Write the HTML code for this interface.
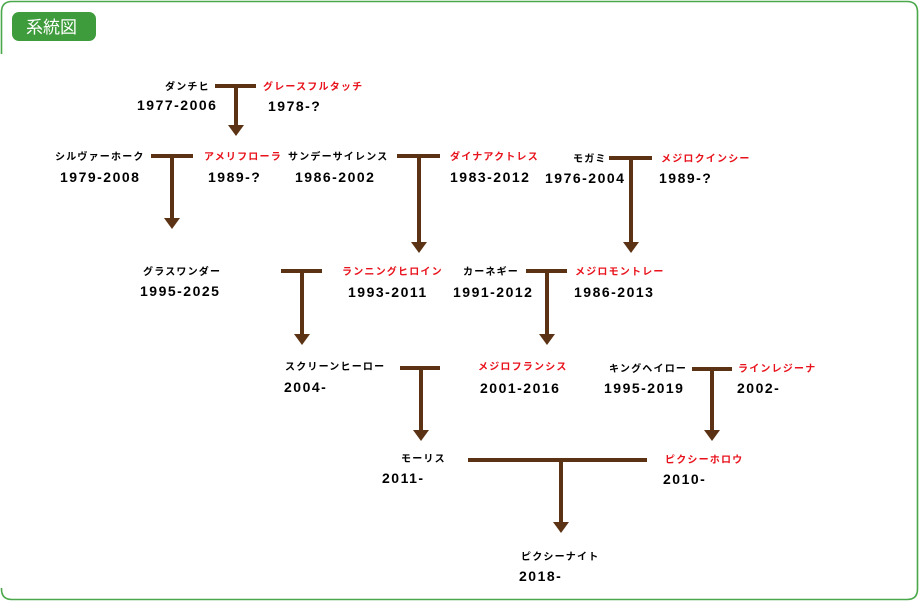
<!DOCTYPE html>
<html><head><meta charset="utf-8"><style>
html,body{margin:0;padding:0;background:#fff;width:919px;height:601px;overflow:hidden}
svg text{font-family:"Liberation Sans","Noto Sans CJK JP",sans-serif;font-weight:bold}
.n{font-size:10px;letter-spacing:1.2px;fill:#000}
.r{font-size:10px;letter-spacing:1.2px;fill:#e8121c}
.y{font-size:14px;letter-spacing:1.5px;fill:#000}
</style></head><body>
<svg width="919" height="601" viewBox="0 0 919 601" xmlns="http://www.w3.org/2000/svg">
<path d="M1.5 54 V12 Q1.5 1.5 12 1.5 H907 Q917.5 1.5 917.5 12 V589 Q917.5 599.5 907 599.5 H12 Q1.5 599.5 1.5 589 V588" fill="none" stroke="#4aa84a" stroke-width="1.6"/>
<rect x="12" y="12" width="84" height="29" rx="7" fill="#3f9c3c"/>
<text x="26" y="33" style="font-size:17px;font-weight:normal" fill="#fff">系統図</text>
<g stroke="#5c3214" stroke-width="4" fill="none">
<path d="M215 86H256M236 86V127"/>
<path d="M151 156H193M172 156V220"/>
<path d="M397 156H440M419 156V244"/>
<path d="M609 158H652M631 158V244"/>
<path d="M281 271H322M302 271V336"/>
<path d="M526 271H567M547 271V336"/>
<path d="M400 368H440M421 368V432"/>
<path d="M692 369H732M712 369V432"/>
<path d="M468 460H647M561 460V524"/>
</g>
<g fill="#5c3214">
<path d="M228 125H244L236 136Z"/>
<path d="M164 218H180L172 229Z"/>
<path d="M411 242H427L419 253Z"/>
<path d="M623 242H639L631 253Z"/>
<path d="M294 334H310L302 345Z"/>
<path d="M539 334H555L547 345Z"/>
<path d="M413 430H429L421 441Z"/>
<path d="M704 430H720L712 441Z"/>
<path d="M553 522H569L561 533Z"/>
</g>
<text class="n" x="165" y="90">ダンチヒ</text><text class="y" x="137" y="110">1977-2006</text>
<text class="r" x="263" y="90">グレースフルタッチ</text><text class="y" x="268" y="111">1978-?</text>
<text class="n" x="55" y="160">シルヴァーホーク</text><text class="y" x="60" y="182">1979-2008</text>
<text class="r" x="204" y="160">アメリフローラ</text><text class="y" x="208" y="182">1989-?</text>
<text class="n" x="288" y="160">サンデーサイレンス</text><text class="y" x="295" y="182">1986-2002</text>
<text class="r" x="450" y="160">ダイナアクトレス</text><text class="y" x="450" y="182">1983-2012</text>
<text class="n" x="573" y="162">モガミ</text><text class="y" x="545" y="183">1976-2004</text>
<text class="r" x="661" y="162">メジロクインシー</text><text class="y" x="659" y="183">1989-?</text>
<text class="n" x="143" y="275">グラスワンダー</text><text class="y" x="140" y="296">1995-2025</text>
<text class="r" x="342" y="275">ランニングヒロイン</text><text class="y" x="348" y="297">1993-2011</text>
<text class="n" x="463" y="275">カーネギー</text><text class="y" x="453" y="297">1991-2012</text>
<text class="r" x="575" y="275">メジロモントレー</text><text class="y" x="574" y="297">1986-2013</text>
<text class="n" x="285" y="370">スクリーンヒーロー</text><text class="y" x="284" y="392">2004-</text>
<text class="r" x="478" y="370">メジロフランシス</text><text class="y" x="480" y="393">2001-2016</text>
<text class="n" x="609" y="372">キングヘイロー</text><text class="y" x="604" y="393">1995-2019</text>
<text class="r" x="738" y="372">ラインレジーナ</text><text class="y" x="737" y="393">2002-</text>
<text class="n" x="401" y="462">モーリス</text><text class="y" x="382" y="483">2011-</text>
<text class="r" x="665" y="463">ピクシーホロウ</text><text class="y" x="663" y="484">2010-</text>
<text class="n" x="521" y="560">ピクシーナイト</text><text class="y" x="519" y="581">2018-</text>
</svg>
</body></html>
